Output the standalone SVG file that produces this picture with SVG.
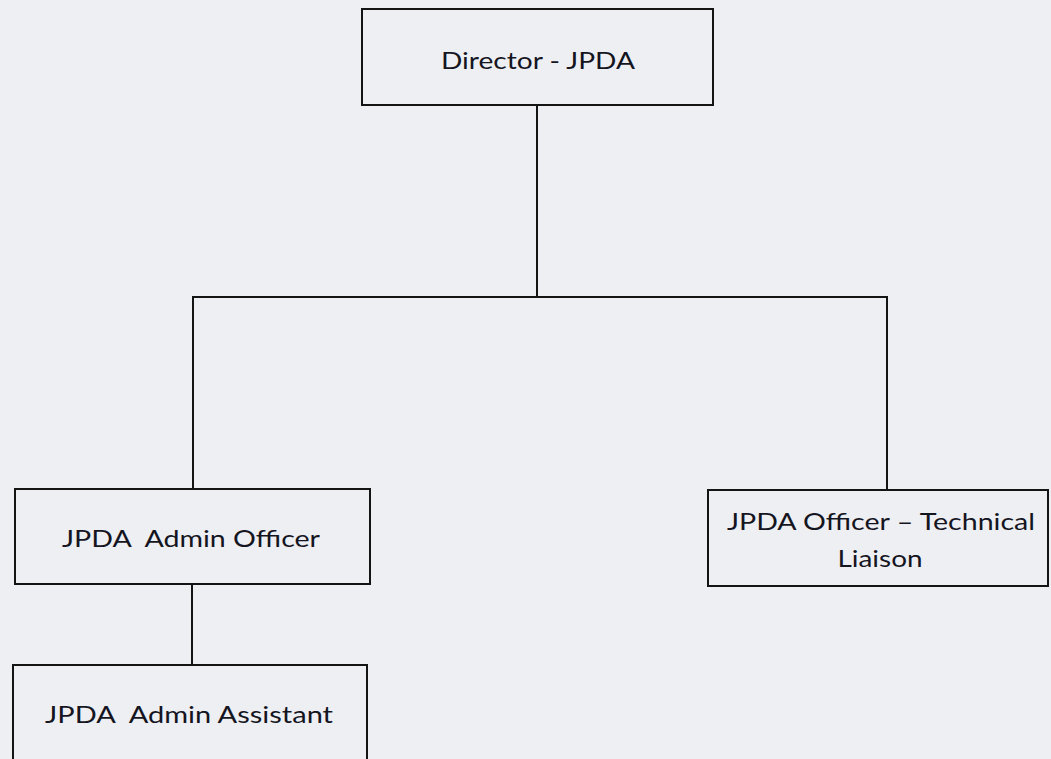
<svg xmlns="http://www.w3.org/2000/svg" width="1051" height="759" viewBox="0 0 1051 759">
<style>
.box{fill:none;stroke:#141414;stroke-width:2}
.lbl{font-family:Lato,"Liberation Sans",sans-serif;font-size:24px;fill:#15151f;text-anchor:middle}
.con{fill:none;stroke:#141414;stroke-width:2}
</style>
<rect width="1051" height="759" fill="#eeeff2"/>
<g id="connectors">
<path class="con" d="M537 105 V297"/>
<path class="con" d="M193 489 V297 H887 V490"/>
<path class="con" d="M192 584 V665"/>
</g>
<g id="director">
<rect class="box" x="362" y="9" width="351" height="96"/>
<text class="lbl" x="538" y="69" textLength="194" lengthAdjust="spacingAndGlyphs">Director - JPDA</text>
</g>
<g id="admin-officer">
<rect class="box" x="15" y="489" width="355" height="95"/>
<text class="lbl" x="191" y="547" textLength="258" lengthAdjust="spacingAndGlyphs" xml:space="preserve">JPDA  Admin Officer</text>
</g>
<g id="technical-liaison">
<rect class="box" x="708" y="490" width="340" height="96"/>
<text class="lbl" x="881" y="530" textLength="308" lengthAdjust="spacingAndGlyphs">JPDA Officer – Technical</text>
<text class="lbl" x="880" y="567" textLength="85" lengthAdjust="spacingAndGlyphs">Liaison</text>
</g>
<g id="admin-assistant">
<rect class="box" x="13" y="665" width="354" height="110"/>
<text class="lbl" x="189" y="723" textLength="288" lengthAdjust="spacingAndGlyphs" xml:space="preserve">JPDA  Admin Assistant</text>
</g>
</svg>
